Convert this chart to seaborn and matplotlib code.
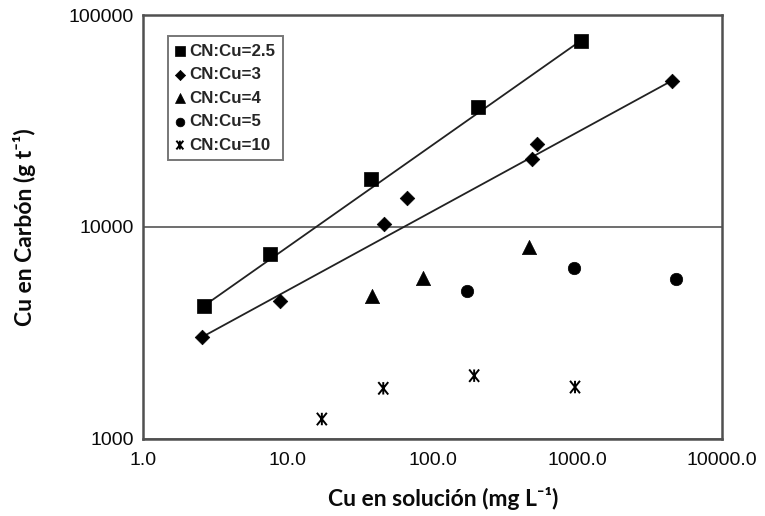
import numpy as np
import pandas as pd
import matplotlib
matplotlib.use("Agg")
import matplotlib.pyplot as plt
import seaborn as sns
from matplotlib.path import Path
from matplotlib.markers import MarkerStyle

# Cu en solución (mg/L) and Cu en carbón (g/t) for each CN:Cu ratio
x_25 = [2.65, 7.6, 37.6, 205, 1060]
y_25 = [4240, 7430, 16800, 36600, 75600]

x_3 = [2.54, 8.9, 46.2, 66.3, 490, 525, 4540]
y_3 = [3000, 4460, 10270, 13600, 21000, 24600, 48900]

x_4 = [38.0, 85.5, 467]
y_4 = [4710, 5700, 8050]

x_5 = [174, 950, 4790]
y_5 = [4990, 6400, 5660]

x_10 = [17.2, 45.7, 194, 965]
y_10 = [1236, 1726, 1980, 1750]

# Power trend lines y = a * x**b
trend_25 = [2654, 0.481]
trend_3 = [2123, 0.373]

series_labels = ["CN:Cu=2.5", "CN:Cu=3", "CN:Cu=4", "CN:Cu=5", "CN:Cu=10"]
x_ticks = [1, 10, 100, 1000, 10000]
x_tick_labels = ["1.0", "10.0", "100.0", "1000.0", "10000.0"]
y_ticks = [1000, 10000, 100000]
y_tick_labels = ["1000", "10000", "100000"]

sns.set_theme(style="white")
plt.rcParams["font.family"] = ["Liberation Sans", "DejaVu Sans"]

fig = plt.figure(figsize=(7.65, 5.16), dpi=100)
ax = fig.add_axes([143 / 765, 1 - 438.5 / 516, (722 - 143) / 765, (438.5 - 15) / 516])

ax.set_xscale("log")
ax.set_yscale("log")

# Trend lines spanning each series' range (straight in log-log)
for xs, (a, b) in [(x_25, trend_25), (x_3, trend_3)]:
    fx = np.array([min(xs), max(xs)])
    fy = a * fx ** b
    sns.lineplot(x=fx, y=fy, ax=ax, color="#222222", linewidth=1.3,
                 estimator=None, sort=False, legend=False, zorder=3)

# Excel-style "star": an x crossed by a vertical bar
star_path = Path(
    [(-0.8, -1), (0.8, 1), (-0.8, 1), (0.8, -1), (0, -1), (0, 1)],
    [Path.MOVETO, Path.LINETO, Path.MOVETO, Path.LINETO, Path.MOVETO, Path.LINETO],
)
star_marker = MarkerStyle(star_path, fillstyle="none")

series = [
    (x_25, y_25, "s", 88, series_labels[0]),
    (x_3, y_3, "D", 55, series_labels[1]),
    (x_4, y_4, "^", 105, series_labels[2]),
    (x_5, y_5, "o", 80, series_labels[3]),
]
for xs, ys, mk, size, lab in series:
    sns.scatterplot(x=xs, y=ys, ax=ax, marker=mk, s=size, color="black",
                    edgecolor="black", linewidth=0.5, label=lab, zorder=4)
sns.scatterplot(x=x_10, y=y_10, ax=ax, marker=star_marker, s=80, color="black",
                linewidth=1.4, label=series_labels[4], zorder=4)

ax.set_xlim(1, 10000)
ax.set_ylim(1000, 100000)
ax.xaxis.set_minor_locator(matplotlib.ticker.NullLocator())
ax.yaxis.set_minor_locator(matplotlib.ticker.NullLocator())
ax.set_xticks(x_ticks, x_tick_labels)
ax.set_yticks(y_ticks, y_tick_labels)

ax.grid(axis="y", which="major", color="#6e6e6e", linewidth=1.4)
ax.grid(axis="x", visible=False)
for sp in ax.spines.values():
    sp.set_color("#505050")
    sp.set_linewidth(1.8)
    sp.set_zorder(5)

ax.tick_params(axis="both", which="major", direction="inout", length=7, width=1.2,
               color="#333333", labelsize=14, labelcolor="#0a0a0a")
ax.tick_params(axis="x", pad=6)
ax.tick_params(axis="y", pad=3)

label_font = {"family": ["Lato", "DejaVu Sans"], "weight": "bold", "size": 16.5}
ax.set_xlabel("Cu en solución (mg L\u207b\u00b9)", fontdict=label_font, color="#0a0a0a")
ax.set_ylabel("Cu en Carbón (g t\u207b\u00b9)", fontdict=label_font, color="#0a0a0a")
ax.xaxis.set_label_coords((443 - 143) / 579, -0.115)
ax.yaxis.set_label_coords(-0.185, 0.5)

leg = ax.legend(loc="upper left", bbox_to_anchor=((168 - 143) / 579, 1 - (36 - 15) / 423.5),
                frameon=True, fancybox=False, markerscale=0.7, handlelength=0.5,
                handletextpad=0.3, borderpad=0.45, labelspacing=0.5,
                prop={"family": "Liberation Sans", "weight": "bold", "size": 12.2},
                borderaxespad=0)
leg.get_frame().set_edgecolor("#555555")
leg.get_frame().set_linewidth(1.4)

fig.savefig("out.png", dpi=100)
